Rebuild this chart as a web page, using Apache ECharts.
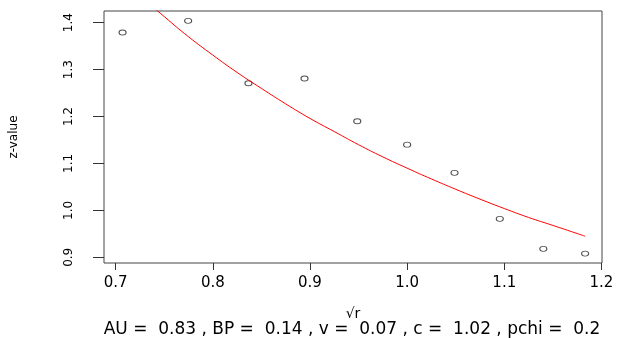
<!DOCTYPE html>
<html>
<head>
<meta charset="utf-8">
<script src="https://cdn.jsdelivr.net/npm/echarts@6/dist/echarts.min.js"></script>
<style>html,body{margin:0;padding:0;background:#fff;}#c{width:627px;height:338px;}</style>
</head>
<body>
<div id="c"></div>
<script>
// observed points: sqrt(r) and z-value
var sqrtR = [0.7071, 0.7746, 0.8367, 0.8944, 0.9487, 1.0000, 1.0488, 1.0954, 1.1402, 1.1832];
var zValue = [1.379, 1.404, 1.271, 1.281, 1.190, 1.140, 1.080, 0.982, 0.918, 0.908];
// fitted curve
var curveX = [0.7071, 0.725, 0.75, 0.775, 0.8, 0.825, 0.85, 0.875, 0.9, 0.925, 0.95, 0.975, 1.0, 1.025, 1.05, 1.075, 1.1, 1.125, 1.15, 1.1832];
var curveZ = [1.492, 1.458, 1.413, 1.370, 1.331, 1.294, 1.260, 1.227, 1.196, 1.168, 1.140, 1.114, 1.090, 1.067, 1.045, 1.024, 1.004, 0.985, 0.968, 0.945];
var xTicks = [0.7, 0.8, 0.9, 1.0, 1.1, 1.2];
var yTicks = [0.9, 1.0, 1.1, 1.2, 1.3, 1.4];
var statNames = ['AU', 'BP', 'v', 'c', 'pchi'];
var statValues = ['0.83', '0.14', '0.07', '1.02', '0.2'];

var pts = sqrtR.map(function (x, i) { return [x, zValue[i]]; });
var crv = curveX.map(function (x, i) { return [x, curveZ[i]]; });
var subText = statNames.map(function (n, i) { return n + ' =  ' + statValues[i]; }).join(' , ');

var chart = echarts.init(document.getElementById('c'), null, {renderer: 'canvas'});
var FONT = 'DejaVu Sans';
chart.setOption({
  animation: false,
  backgroundColor: '#fff',
  grid: {left: 104, right: 25, top: 11, bottom: 75, show: true, borderColor: '#444', borderWidth: 1, backgroundColor: 'transparent'},
  xAxis: {
    type: 'value', min: 0.688, max: 1.2006,
    name: '\u221Ar', nameLocation: 'middle', nameGap: 44,
    nameTextStyle: {fontFamily: FONT, fontSize: 14, color: '#000'},
    axisLine: {show: false},
    splitLine: {show: false},
    axisTick: {show: true, length: 7, lineStyle: {color: '#333'}, customValues: xTicks},
    axisLabel: {show: true, margin: 13, fontFamily: FONT, fontSize: 15, color: '#000', customValues: xTicks,
      formatter: function (v) { return v.toFixed(1); }}
  },
  yAxis: {
    type: 'value', min: 0.8879, max: 1.4249,
    name: 'z-value', nameLocation: 'middle', nameGap: 84,
    nameTextStyle: {fontFamily: FONT, fontSize: 12, color: '#000'},
    axisLine: {show: false},
    splitLine: {show: false},
    axisTick: {show: true, length: 11, lineStyle: {color: '#333'}, customValues: yTicks},
    axisLabel: {show: true, rotate: 90, margin: 29, fontFamily: FONT, fontSize: 12, color: '#000', customValues: yTicks,
      formatter: function (v) { return v.toFixed(1); }}
  },
  graphic: [{
    type: 'text', x: 352, y: 330,
    style: {text: subText, fontFamily: FONT, fontSize: 17, fill: '#000', textAlign: 'center', textVerticalAlign: 'middle'}
  }],
  series: [{
    type: 'line', data: crv, smooth: true, showSymbol: false, clip: true,
    lineStyle: {color: '#ff0000', width: 1}
  }, {
    type: 'scatter', data: pts,
    symbol: 'path://M0,50a50,50 0 1,0 100,0a50,50 0 1,0 -100,0z',
    symbolSize: [7, 5],
    itemStyle: {color: 'rgba(0,0,0,0)', borderColor: '#222', borderWidth: 1}
  }]
});
</script>
</body>
</html>
